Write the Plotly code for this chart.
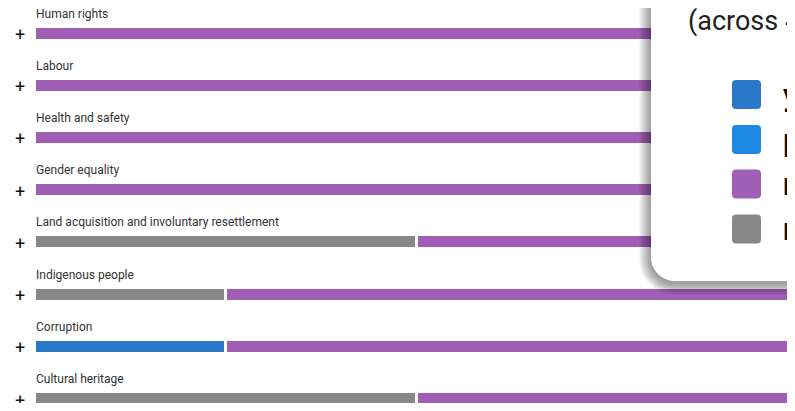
import plotly.graph_objects as go

# the page adds an 8px body margin, so the figure occupies window pixels 8..787 x 8..403
OFF = 8
W, H = 795 - 2 * OFF, 411 - 2 * OFF

categories = ["Human rights", "Labour", "Health and safety", "Gender equality",
              "Land acquisition and involuntary resettlement", "Indigenous people",
              "Corruption", "Cultural heritage"]
yes_vals = [0, 0, 0, 0, 0, 0, 1, 0]
partially_vals = [0, 0, 0, 0, 0, 0, 0, 0]
na_vals = [0, 0, 0, 0, 2, 1, 0, 2]
no_vals = [4, 4, 4, 4, 2, 3, 3, 2]

legend_title = "(across 4 projects)"
legend_labels = ["yes", "partially", "no", "not applicable"]
colors = {"yes": "#2a78c9", "partially": "#1e8ae6", "no": "#9f5fb4", "not applicable": "#888888"}

def px(x):
    return (x - OFF) / W

def py(y):
    return 1 - (y - OFF) / H

spacing = (399 - 33.5) / 7
unit = 191.0
x_zero = 34.5   # pixel of value 0 (bar outline overlaps 1.5px)
x_plot = 36     # visible left edge of bars

fig = go.Figure()
for name, vals in [("yes", yes_vals), ("partially", partially_vals),
                   ("not applicable", na_vals), ("no", no_vals)]:
    fig.add_trace(go.Bar(
        y=categories, x=[v if v else None for v in vals], orientation="h",
        name=name, width=14 / spacing,
        marker=dict(color=colors[name], line=dict(color="white", width=3)),
        showlegend=False, hoverinfo="skip"))

annotations = []
for c in categories:
    annotations.append(dict(x=px(36), y=c, xref="paper", yref="y", text=c, showarrow=False,
                            xanchor="left", yanchor="middle", yshift=20, xshift=-2,
                            font=dict(family="Roboto", size=12, color="#333333")))
    annotations.append(dict(x=px(20), y=c, xref="paper", yref="y", text="+", showarrow=False,
                            xanchor="center", yanchor="middle", yshift=-1,
                            font=dict(family="Roboto", size=18, color="#111111")))

shapes = []
# legend box with shadow
L, B, R, T, r = 651, 281, 820, -20, 24

def box_path(dl, db, dy):
    l = L - dl
    b = B + db + dy
    rr = r + dl
    kk = 0.5523 * rr
    return (f"M {px(l)},{py(T)} L {px(l)},{py(b - rr)} "
            f"C {px(l)},{py(b - rr + kk)} {px(l + rr - kk)},{py(b)} {px(l + rr)},{py(b)} "
            f"L {px(R)},{py(b)} L {px(R)},{py(T)} Z")

for d in range(12, 0, -1):
    shapes.append(dict(type="path", xref="paper", yref="paper", path=box_path(d, d, 2),
                       fillcolor="rgba(0,0,0,0.035)", line=dict(width=0), layer="above"))
shapes.append(dict(type="path", xref="paper", yref="paper", path=box_path(0, 0, 0),
                   fillcolor="white", line=dict(width=0), layer="above"))

row_y = [94.5, 139.5, 184, 229]
for lab, yy in zip(legend_labels, row_y):
    x0, x1, y0, y1, rr = 732, 761, yy - 14.5, yy + 14.5, 4
    path = (f"M {px(x0 + rr)},{py(y0)} L {px(x1 - rr)},{py(y0)} Q {px(x1)},{py(y0)} {px(x1)},{py(y0 + rr)} "
            f"L {px(x1)},{py(y1 - rr)} Q {px(x1)},{py(y1)} {px(x1 - rr)},{py(y1)} "
            f"L {px(x0 + rr)},{py(y1)} Q {px(x0)},{py(y1)} {px(x0)},{py(y1 - rr)} "
            f"L {px(x0)},{py(y0 + rr)} Q {px(x0)},{py(y0)} {px(x0 + rr)},{py(y0)} Z")
    shapes.append(dict(type="path", xref="paper", yref="paper", path=path,
                       fillcolor=colors[lab], line=dict(width=0), layer="above"))
    annotations.append(dict(x=px(781), y=py(yy), xref="paper", yref="paper", text=f"<b>{lab}</b>",
                            showarrow=False, xanchor="left", yanchor="middle",
                            font=dict(family="Roboto", size=32, color="#111111")))

annotations.append(dict(x=px(686), y=py(21), xref="paper", yref="paper", text=legend_title,
                        showarrow=False, xanchor="left", yanchor="middle",
                        font=dict(family="Roboto", size=27, color="#222222")))

fig.update_layout(
    width=W, height=H, barmode="stack",
    margin=dict(l=0, r=0, t=0, b=0),
    paper_bgcolor="white", plot_bgcolor="white",
    xaxis=dict(domain=[px(x_plot), 1],
               range=[(x_plot - x_zero) / unit, (OFF + W - x_zero) / unit],
               visible=False, fixedrange=True),
    yaxis=dict(type="category", categoryorder="array", categoryarray=categories,
               range=[7 + (OFF + H - 399) / spacing, -(33.5 - OFF) / spacing],
               visible=False, fixedrange=True),
    shapes=shapes, annotations=annotations, bargap=0,
)
fig.write_html("out.html")
